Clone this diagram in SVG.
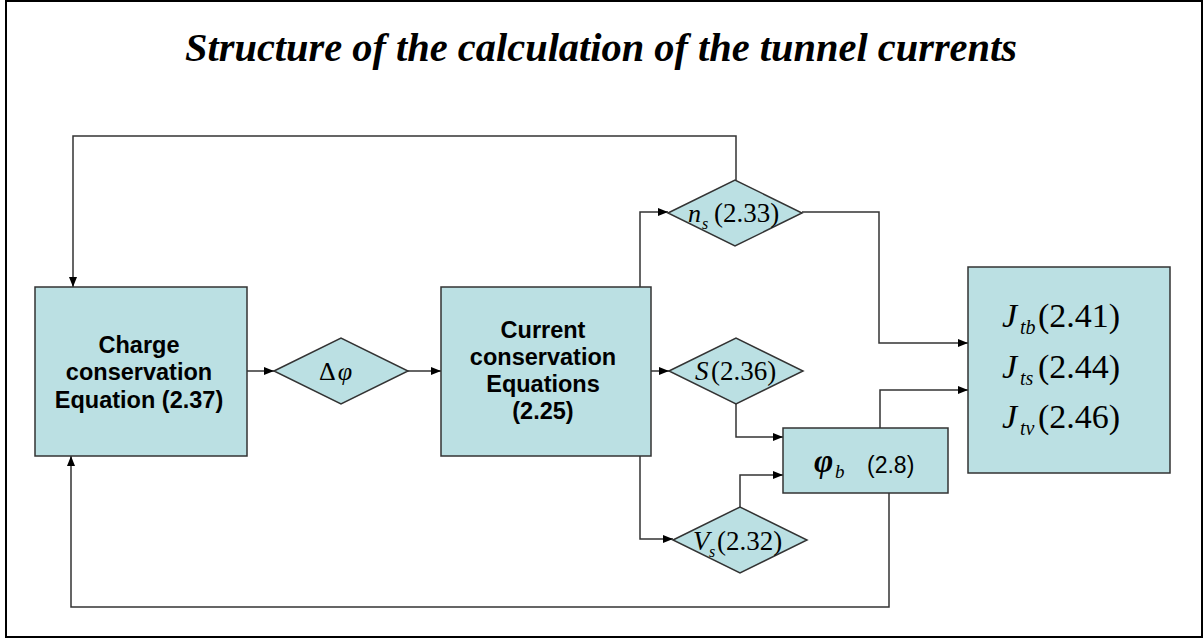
<svg xmlns="http://www.w3.org/2000/svg" width="1204" height="639" viewBox="0 0 1204 639">
<defs>
<marker id="arr" markerUnits="userSpaceOnUse" markerWidth="11" markerHeight="9" refX="10" refY="4" orient="auto">
<path d="M0,0 L10,4 L0,8 z" fill="#000"/>
</marker>
<style>
.box{fill:#BBE0E3;stroke:#333;stroke-width:1.5}
.con{fill:none;stroke:#333;stroke-width:1.5;marker-end:url(#arr)}
.lbl{font-family:"Liberation Sans",Arial,sans-serif;font-weight:bold;font-size:23.5px;fill:#000;text-anchor:middle}
.m{font-family:"Liberation Serif","Times New Roman",serif;fill:#000}
.i{font-style:italic}
</style>
</defs>
<rect x="0" y="0" width="1204" height="639" fill="#fff"/>
<rect x="6" y="1" width="1196" height="636" fill="none" stroke="#000" stroke-width="2"/>
<text x="185" y="61" textLength="832" lengthAdjust="spacingAndGlyphs" font-family="'Liberation Serif','Times New Roman',serif" font-weight="bold" font-style="italic" font-size="39">Structure of the calculation of the tunnel currents</text>

<g id="connectors">
<path class="con" d="M247,371 H274"/>
<path class="con" d="M408,371 H441"/>
<path class="con" d="M640,287 V212 H668"/>
<path class="con" d="M651,371 H669"/>
<path class="con" d="M640,456 V539 H673"/>
<path class="con" d="M736,404 V437 H783"/>
<path class="con" d="M740,507 V475 H783"/>
<path class="con" d="M880,428 V390 H968"/>
<path class="con" d="M802,212 H879 V343 H968"/>
<path class="con" d="M889,493 V607 H71 V456"/>
<path class="con" d="M736,180 V136 H73 V287"/>
</g>

<g id="charge">
<rect class="box" x="35" y="287" width="212" height="169"/>
<text class="lbl" x="139" y="353">Charge</text>
<text class="lbl" x="139" y="380">conservation</text>
<text class="lbl" x="139" y="408">Equation (2.37)</text>
</g>

<g id="dphi">
<polygon class="box" points="274,371 341,338 408,371 341,404"/>
<text class="m" x="319" y="380" font-size="26">Δ<tspan class="i" dx="2">φ</tspan></text>
</g>

<g id="current">
<rect class="box" x="441" y="287" width="210" height="169"/>
<text class="lbl" x="543" y="338">Current</text>
<text class="lbl" x="543" y="365">conservation</text>
<text class="lbl" x="543" y="392">Equations</text>
<text class="lbl" x="543" y="419">(2.25)</text>
</g>

<g id="ns">
<polygon class="box" points="668,213 735,180 802,213 735,246"/>
<text class="m i" x="688" y="222" font-size="26">n</text>
<text class="m i" x="702" y="229" font-size="16">s</text>
<text class="m" x="714" y="222" font-size="27">(2.33)</text>
</g>

<g id="S">
<polygon class="box" points="669,371 736,338 803,371 736,404"/>
<text class="m i" x="695" y="380" font-size="27">S</text>
<text class="m" x="711" y="380" font-size="27">(2.36)</text>
</g>

<g id="Vs">
<polygon class="box" points="673,540 740,507 807,540 740,573"/>
<text class="m i" x="693" y="550" font-size="27">V</text>
<text class="m i" x="709" y="557" font-size="16">s</text>
<text class="m" x="717" y="550" font-size="27">(2.32)</text>
</g>

<g id="phib">
<rect class="box" x="783" y="428" width="165" height="65"/>
<text class="m i" x="814" y="472" font-size="33" font-weight="bold">φ</text>
<text class="m i" x="835" y="478" font-size="19">b</text>
<text x="867" y="473" font-family="'Liberation Sans',Arial,sans-serif" font-size="23">(2.8)</text>
</g>

<g id="J">
<rect class="box" x="968" y="267" width="202" height="206"/>
<text class="m i" x="1002" y="327" font-size="34">J</text>
<text class="m i" x="1020" y="334" font-size="20">tb</text>
<text class="m" x="1038" y="327" font-size="34">(2.41)</text>
<text class="m i" x="1002" y="378" font-size="34">J</text>
<text class="m i" x="1020" y="385" font-size="20">ts</text>
<text class="m" x="1038" y="378" font-size="34">(2.44)</text>
<text class="m i" x="1002" y="428" font-size="34">J</text>
<text class="m i" x="1020" y="435" font-size="20">tv</text>
<text class="m" x="1038" y="428" font-size="34">(2.46)</text>
</g>
</svg>
